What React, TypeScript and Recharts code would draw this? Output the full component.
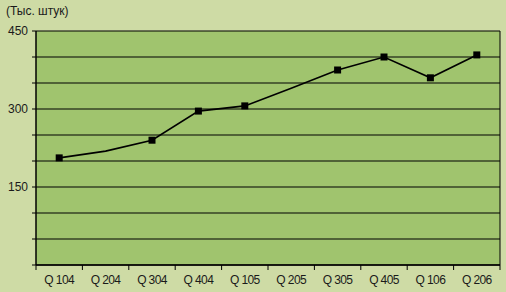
import React from 'react';
import { LineChart, Line, XAxis, YAxis, CartesianGrid } from 'recharts';

const categories = ['Q 104', 'Q 204', 'Q 304', 'Q 404', 'Q 105', 'Q 205', 'Q 305', 'Q 405', 'Q 106', 'Q 206'];
const values = [206, 219, 240, 296, 306, 340, 375, 400, 360, 404];
const hasMarker = [true, false, true, true, true, false, true, true, true, true];
const yTicks = [0, 50, 100, 150, 200, 250, 300, 350, 400, 450];
const yLabelTicks = [150, 300, 450];
const boundaryTicks = [0, 1, 2, 3, 4, 5, 6, 7, 8, 9, 10];

// xi = category slot centre on a 0..10 numeric scale
const data = categories.map((c, i) => ({ cat: c, xi: i + 0.5, v: values[i], m: hasMarker[i] }));

const FONT = '"Liberation Sans", Arial, sans-serif';

const YTick = (props: any) => {
  const { x, y, payload } = props;
  if (!yLabelTicks.includes(payload.value)) return null;
  return (
    <text x={x} y={y} dx={-2} dy={4} textAnchor="end" fontFamily={FONT} fontSize={12} fill="#1a1a1a">
      {payload.value}
    </text>
  );
};

const XTick = (props: any) => {
  const { x, y, payload } = props;
  return (
    <text x={x} y={y} dy={10} textAnchor="middle" fontFamily={FONT} fontSize={12} letterSpacing={-0.6} fill="#1a1a1a">
      {payload.value}
    </text>
  );
};

const EmptyTick = () => <g />;

const Dot = (props: any) => {
  const { cx, cy, payload } = props;
  if (!payload || !payload.m) return null;
  return <rect x={cx - 3.5} y={cy - 3.5} width={7} height={7} fill="#000" />;
};

export default function App() {
  return (
    <div style={{ position: 'absolute', left: 0, top: 0, width: 506, height: 292, background: '#cedba5' }}>
      <div
        style={{
          position: 'absolute',
          left: 6,
          top: 4,
          fontFamily: FONT,
          fontSize: 12,
          color: '#1a1a1a',
        }}
      >
        (Тыс. штук)
      </div>
      <LineChart width={506} height={292} data={data} margin={{ top: 31, right: 6, bottom: 0, left: 0 }}>
        <CartesianGrid
          vertical={true}
          horizontal={true}
          stroke="#000"
          strokeWidth={1}
          fill="#a0c46e"
          fillOpacity={1}
          yAxisId="left"
          xAxisId="b"
          verticalCoordinatesGenerator={({ offset }: any) => [offset.left + offset.width]}
        />
        <XAxis
          xAxisId="b"
          type="number"
          dataKey="xi"
          domain={[0, 10]}
          ticks={boundaryTicks}
          height={1}
          axisLine={{ stroke: '#000', strokeWidth: 1.5 }}
          tickLine={{ stroke: '#000' }}
          tickSize={5}
          tick={<EmptyTick />}
          interval={0}
          allowDataOverflow
        />
        <XAxis
          xAxisId="cat"
          dataKey="cat"
          scale="band"
          height={26}
          axisLine={false}
          tickLine={false}
          tick={<XTick />}
          interval={0}
        />
        <YAxis
          yAxisId="left"
          domain={[0, 450]}
          ticks={yTicks}
          width={36}
          axisLine={{ stroke: '#000', strokeWidth: 1.5 }}
          tickLine={{ stroke: '#000' }}
          tickSize={4}
          tick={<YTick />}
          interval={0}
        />
        <Line
          xAxisId="b"
          yAxisId="left"
          dataKey="v"
          stroke="#000"
          strokeWidth={1.6}
          type="linear"
          dot={<Dot />}
          activeDot={false}
          isAnimationActive={false}
        />
      </LineChart>
    </div>
  );
}
